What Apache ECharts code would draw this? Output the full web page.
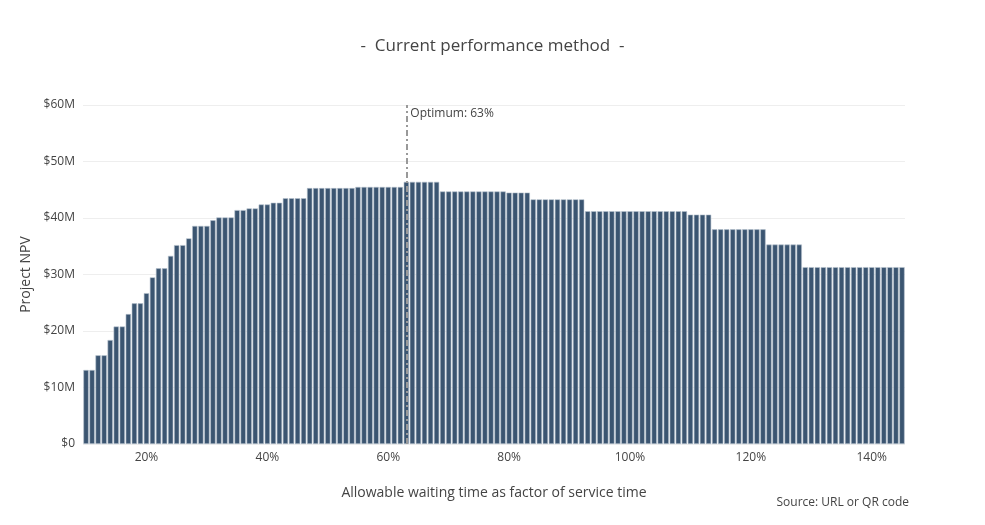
<!DOCTYPE html>
<html>
<head>
<meta charset="utf-8">
<script src="https://cdn.jsdelivr.net/npm/echarts@6/dist/echarts.min.js"></script>
<style>html,body{margin:0;padding:0;background:#fff}#c{width:985px;height:525px}</style>
</head>
<body>
<div id="c"></div>
<script>
// waiting time factor (%) from 10 to 145
var pct = [];
for (var p = 10; p <= 145; p++) pct.push(String(p));
// NPV in $M
var npv = [
 13.1,13.1,15.7,15.7,18.4,20.8,20.8,23.0,24.9,24.9,
 26.7,29.5,31.1,31.1,33.3,35.2,35.2,36.4,38.6,38.6,
 38.6,39.6,40.1,40.1,40.1,41.4,41.4,41.7,41.7,42.4,
 42.4,42.7,42.7,43.5,43.5,43.5,43.5,45.3,45.3,45.3,
 45.3,45.3,45.3,45.3,45.3,45.5,45.5,45.5,45.5,45.5,
 45.5,45.5,45.5,46.4,46.4,46.4,46.4,46.4,46.4,44.7,
 44.7,44.7,44.7,44.7,44.7,44.7,44.7,44.7,44.7,44.7,
 44.5,44.5,44.5,44.5,43.3,43.3,43.3,43.3,43.3,43.3,
 43.3,43.3,43.3,41.2,41.2,41.2,41.2,41.2,41.2,41.2,
 41.2,41.2,41.2,41.2,41.2,41.2,41.2,41.2,41.2,41.2,
 40.6,40.6,40.6,40.6,38.0,38.0,38.0,38.0,38.0,38.0,
 38.0,38.0,38.0,35.3,35.3,35.3,35.3,35.3,35.3,31.3,
 31.3,31.3,31.3,31.3,31.3,31.3,31.3,31.3,31.3,31.3,
 31.3,31.3,31.3,31.3,31.3,31.3
];
var optimum = '63';

var chart = echarts.init(document.getElementById('c'));
chart.setOption({
  title: {
    text: '-  Current performance method  -',
    left: 'center', top: 33,
    textStyle: {fontFamily: 'Open Sans', fontSize: 17, fontWeight: 'normal', color: '#444'}
  },
  textStyle: {fontFamily: 'Open Sans'},
  grid: {left: 83, right: 80, top: 105, bottom: 81},
  xAxis: {
    type: 'category',
    data: pct,
    name: 'Allowable waiting time as factor of service time',
    nameLocation: 'middle', nameGap: 42,
    nameTextStyle: {fontSize: 14, color: '#444'},
    axisLine: {show: false},
    axisTick: {show: false},
    axisLabel: {
      color: '#444', fontSize: 12,
      interval: function (i, v) { return Number(v) % 20 === 0; },
      formatter: function (v) { return v + '%'; }
    }
  },
  yAxis: {
    type: 'value', min: 0, max: 60, interval: 10,
    name: 'Project NPV', nameLocation: 'middle', nameGap: 43,
    nameTextStyle: {fontSize: 14, color: '#444'},
    axisLabel: {color: '#444', fontSize: 12, formatter: function (v) { return v === 0 ? '$0' : '$' + v + 'M'; }},
    splitLine: {lineStyle: {color: '#eee'}}
  },
  series: [{
    type: 'bar',
    data: npv,
    barCategoryGap: '12%',
    itemStyle: {color: '#3b5571', borderColor: '#b7c2ce', borderWidth: 0.6},
    markLine: {
      silent: true, symbol: 'none',
      lineStyle: {color: '#999', type: [6, 3, 2, 3], width: 2},
      label: {show: false},
      data: [{xAxis: optimum}]
    },
    markPoint: {
      symbolSize: 0,
      data: [{coord: [optimum, 58.5]}],
      label: {show: true, position: 'right', distance: 4, color: '#444', fontSize: 12, formatter: 'Optimum: 63%'}
    }
  }],
  graphic: [{
    type: 'text', right: 76, top: 497,
    style: {text: 'Source: URL or QR code', fill: '#444', font: '12px Open Sans'}
  }]
});
</script>
</body>
</html>
